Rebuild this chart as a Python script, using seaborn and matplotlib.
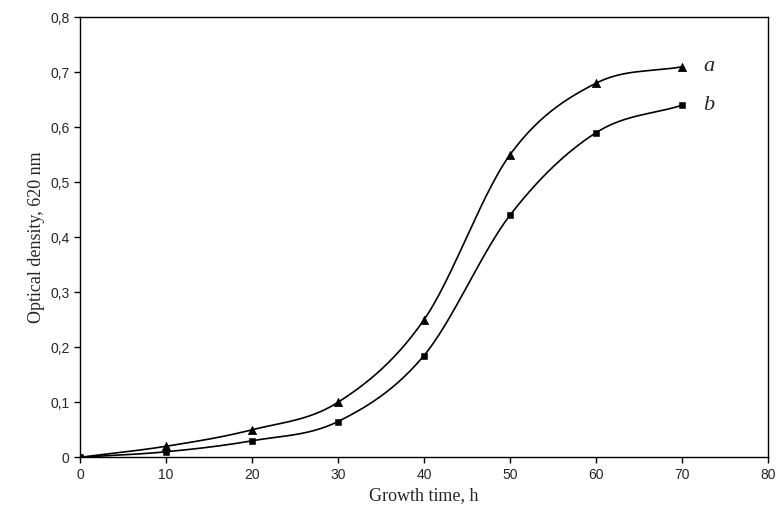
import numpy as np
import matplotlib
matplotlib.use("Agg")
import matplotlib.pyplot as plt
import seaborn as sns
import pandas as pd

time_h = [0, 10, 20, 30, 40, 50, 60, 70]
od_a = [0.0, 0.02, 0.05, 0.10, 0.25, 0.55, 0.68, 0.71]
od_b = [0.0, 0.01, 0.03, 0.065, 0.185, 0.44, 0.59, 0.64]


def smooth(x, y, n=30):
    # cardinal (Catmull-Rom) spline through the points, just for drawing the curve
    x = np.asarray(x, float)
    y = np.asarray(y, float)
    m = np.gradient(y, x)
    xs, ys = [], []
    for i in range(len(x) - 1):
        h = x[i + 1] - x[i]
        t = np.linspace(0, 1, n)
        h00 = 2 * t**3 - 3 * t**2 + 1
        h10 = t**3 - 2 * t**2 + t
        h01 = -2 * t**3 + 3 * t**2
        h11 = t**3 - t**2
        xs.append(x[i] + t * h)
        ys.append(h00 * y[i] + h10 * h * m[i] + h01 * y[i + 1] + h11 * h * m[i + 1])
    return np.concatenate(xs), np.concatenate(ys)


sns.set_style("white")
fig = plt.figure(figsize=(7.78, 5.22), dpi=100)
ax = fig.add_axes([0.103, 0.124, 0.884, 0.843])

df = pd.DataFrame({"t": time_h, "a": od_a, "b": od_b})
for col, mk, ms in [("a", "^", 6), ("b", "s", 5)]:
    sx, sy = smooth(df["t"], df[col])
    sns.lineplot(x=sx, y=sy, ax=ax, color="black", lw=1.2)
    sns.scatterplot(data=df, x="t", y=col, ax=ax, marker=mk, s=ms**2, color="black", edgecolor="black")

ax.text(72.5, 0.71, "a", fontsize=16, style="italic", family="Liberation Serif", va="center")
ax.text(72.5, 0.64, "b", fontsize=16, style="italic", family="Liberation Serif", va="center")

ax.set_xlim(0, 80)
ax.set_ylim(0, 0.8)
ax.set_xticks(range(0, 81, 10))
ax.set_yticks(np.arange(0, 0.81, 0.1))
ax.set_yticklabels(["0"] + [f"0,{i}" for i in range(1, 9)])
for lab in ax.get_xticklabels() + ax.get_yticklabels():
    lab.set_family("Liberation Sans")
    lab.set_fontsize(10)
ax.tick_params(direction="out", length=4, width=1, bottom=True, left=True, color="black")
for s in ax.spines.values():
    s.set_color("black")
    s.set_linewidth(1)
ax.set_xlabel("Growth time, h", family="Liberation Serif", fontsize=13)
ax.set_ylabel("Optical density, 620 nm", family="Liberation Serif", fontsize=13)

fig.savefig("out.png", dpi=100)
